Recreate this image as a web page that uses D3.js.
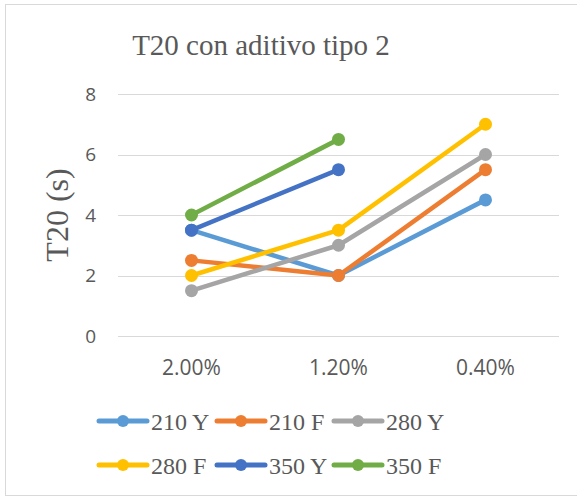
<!DOCTYPE html>
<html>
<head>
<meta charset="utf-8">
<script src="https://cdn.jsdelivr.net/npm/d3@7"></script>
<style>
  html, body { margin: 0; padding: 0; background: #fff; }
  svg { display: block; }
</style>
</head>
<body>
<svg id="chart" width="577" height="497"></svg>
<script>
const categories = ["2.00%", "1.20%", "0.40%"];
const seriesNames = ["210 Y", "210 F", "280 Y", "280 F", "350 Y", "350 F"];
const seriesColors = ["#5B9BD5", "#ED7D31", "#A5A5A5", "#FFC000", "#4472C4", "#70AD47"];
const s210Y = [3.5, 2, 4.5];
const s210F = [2.5, 2, 5.5];
const s280Y = [1.5, 3, 6];
const s280F = [2, 3.5, 7];
const s350Y = [3.5, 5.5, null];
const s350F = [4, 6.5, null];
const yTicks = [0, 2, 4, 6, 8];
const titleText = "T20 con aditivo tipo 2";
const yLabel = "T20 (s)";

const seriesValues = [s210Y, s210F, s280Y, s280F, s350Y, s350F];
const series = seriesNames.map((n, i) => ({ name: n, color: seriesColors[i], values: seriesValues[i] }));

const svg = d3.select("#chart");
const gray = "#595959";

// chart border
svg.append("rect")
  .attr("x", 5.5).attr("y", 4.5)
  .attr("width", 600).attr("height", 491)
  .attr("fill", "#fff").attr("stroke", "#d9d9d9").attr("stroke-width", 1);

const x = d3.scaleBand().domain(categories).range([118, 559]).padding(0);
const y = d3.scaleLinear().domain([0, 8]).range([336, 94]);

// gridlines
svg.append("g").selectAll("line").data(yTicks).join("line")
  .attr("x1", 118).attr("x2", 559)
  .attr("y1", d => Math.round(y(d)) + 0.5).attr("y2", d => Math.round(y(d)) + 0.5)
  .attr("stroke", "#d9d9d9").attr("stroke-width", 1);

// y axis labels
const yAxis = d3.axisLeft(y).tickValues(yTicks).tickSize(0).tickPadding(0);
const yg = svg.append("g").attr("transform", "translate(96,0)").call(yAxis);
yg.select(".domain").remove();
yg.selectAll("text")
  .attr("font-family", "'Open Sans', sans-serif").attr("font-size", 19).attr("fill", gray);

// x axis labels
const xAxis = d3.axisBottom(x).tickSize(0).tickPadding(0);
const xg = svg.append("g").attr("transform", "translate(0,354)").call(xAxis);
xg.select(".domain").remove();
xg.selectAll("text")
  .attr("dy", null).attr("y", 21)
  .attr("font-family", "'Open Sans', sans-serif").attr("font-size", 21).attr("fill", gray);

// lines
const line = d3.line()
  .defined(d => d.v !== null)
  .x(d => x(d.c) + x.bandwidth() / 2)
  .y(d => y(d.v));

series.forEach(s => {
  const pts = categories.map((c, i) => ({ c: c, v: s.values[i] }));
  const g = svg.append("g");
  g.append("path")
    .attr("d", line(pts))
    .attr("fill", "none").attr("stroke", s.color)
    .attr("stroke-width", 4.5).attr("stroke-linejoin", "round").attr("stroke-linecap", "round");
  g.selectAll("circle").data(pts.filter(p => p.v !== null)).join("circle")
    .attr("cx", d => x(d.c) + x.bandwidth() / 2)
    .attr("cy", d => y(d.v))
    .attr("r", 6.5)
    .attr("fill", s.color);
});

// title
svg.append("text")
  .attr("x", 261).attr("y", 55)
  .attr("text-anchor", "middle")
  .attr("font-family", "'Liberation Serif', 'Times New Roman', serif")
  .attr("font-size", 29).attr("fill", gray)
  .text(titleText);

// y label
svg.append("text")
  .attr("transform", "translate(68,215) rotate(-90)")
  .attr("text-anchor", "middle")
  .attr("font-family", "'Liberation Serif', 'Times New Roman', serif")
  .attr("font-size", 32).attr("fill", gray)
  .text(yLabel);

// legend
const legendX = [98, 216, 333];
const legendY = [421, 465];
series.forEach((s, i) => {
  const lx = legendX[i % 3];
  const ly = legendY[Math.floor(i / 3)];
  const g = svg.append("g").attr("transform", `translate(${lx},${ly})`);
  g.append("line").attr("x1", 1).attr("x2", 49).attr("y1", 0).attr("y2", 0)
    .attr("stroke", s.color).attr("stroke-width", 5).attr("stroke-linecap", "round");
  g.append("circle").attr("cx", 25).attr("cy", 0).attr("r", 6).attr("fill", s.color);
  g.append("text").attr("x", 53).attr("y", 8.5)
    .attr("font-family", "'Liberation Serif', 'Times New Roman', serif")
    .attr("font-size", 24).attr("fill", gray)
    .text(s.name);
});
</script>
</body>
</html>
